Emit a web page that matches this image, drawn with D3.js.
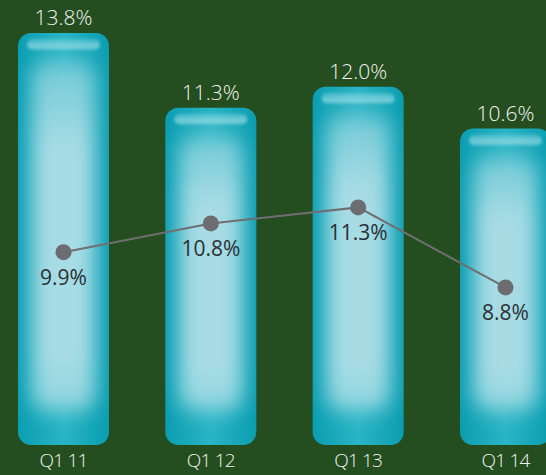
<!DOCTYPE html>
<html>
<head>
<meta charset="utf-8">
<script src="https://cdn.jsdelivr.net/npm/d3@7"></script>
<style>
  html, body { margin: 0; padding: 0; background: #244e1f; }
  svg { display: block; }
  text { font-family: "Open Sans", Lato, sans-serif; font-weight: 300; }
  text.line-label { font-weight: 400; }
</style>
</head>
<body>
<svg id="chart" width="546" height="475"></svg>
<script>
// Quarterly figures
const categories = ["Q1 11", "Q1 12", "Q1 13", "Q1 14"];
const barValues = [13.8, 11.3, 12.0, 10.6];
const lineValues = [9.9, 10.8, 11.3, 8.8];

const W = 546, H = 475;
const svg = d3.select("#chart");

svg.append("rect").attr("width", W).attr("height", H).attr("fill", "#244e1f");

const x = d3.scalePoint().domain(categories).range([63.5, 505.5]);
const barW = 91;
const y = d3.scaleLinear().domain([0, 13.8]).range([445, 33]);
const yLine = d3.scaleLinear().domain([0, 14]).range([569, 121]);

const defs = svg.append("defs");

// soft glow for the pale inner core of each bar
const blur = defs.append("filter").attr("id", "coreBlur")
  .attr("x", "-50%").attr("y", "-50%").attr("width", "200%").attr("height", "200%");
blur.append("feGaussianBlur").attr("stdDeviation", 10);

const hiBlur = defs.append("filter").attr("id", "hiBlur")
  .attr("x", "-20%").attr("y", "-50%").attr("width", "140%").attr("height", "200%");
hiBlur.append("feGaussianBlur").attr("stdDeviation", 1.8);

const edgeGrad = defs.append("linearGradient").attr("id", "edgeGrad")
  .attr("x1", "0").attr("x2", "1").attr("y1", "0").attr("y2", "0");
edgeGrad.append("stop").attr("offset", "0%").attr("stop-color", "#0a9db1");
edgeGrad.append("stop").attr("offset", "50%").attr("stop-color", "#2ab5c5");
edgeGrad.append("stop").attr("offset", "100%").attr("stop-color", "#0a9db1");

const coreGrad = defs.append("linearGradient").attr("id", "coreGrad")
  .attr("x1", "0").attr("x2", "0").attr("y1", "0").attr("y2", "1");
coreGrad.append("stop").attr("offset", "0%").attr("stop-color", "#6fc9d6");
coreGrad.append("stop").attr("offset", "25%").attr("stop-color", "#a7dce5");
coreGrad.append("stop").attr("offset", "85%").attr("stop-color", "#a7dce5");
coreGrad.append("stop").attr("offset", "100%").attr("stop-color", "#8ad4de");

const hiGrad = defs.append("linearGradient").attr("id", "hiGrad")
  .attr("x1", "0").attr("x2", "0").attr("y1", "0").attr("y2", "1");
hiGrad.append("stop").attr("offset", "0%").attr("stop-color", "#b5e8ef").attr("stop-opacity", 0.25);
hiGrad.append("stop").attr("offset", "70%").attr("stop-color", "#b5e8ef").attr("stop-opacity", 0.6);
hiGrad.append("stop").attr("offset", "100%").attr("stop-color", "#b5e8ef").attr("stop-opacity", 0.3);

const bars = svg.append("g").selectAll("g.bar")
  .data(categories.map((c, i) => ({ c, v: barValues[i], i })))
  .join("g").attr("class", "bar");

bars.each(function (d) {
  const g = d3.select(this);
  const x0 = x(d.c) - barW / 2;
  const top = y(d.v);
  const h = y(0) - top;
  const clipId = "clip" + d.i;
  defs.append("clipPath").attr("id", clipId)
    .append("rect").attr("x", x0).attr("y", top).attr("width", barW).attr("height", h)
    .attr("rx", 13).attr("ry", 13);

  g.append("rect")
    .attr("x", x0).attr("y", top).attr("width", barW).attr("height", h)
    .attr("rx", 13).attr("ry", 13)
    .attr("fill", "url(#edgeGrad)");

  const inner = g.append("g").attr("clip-path", `url(#${clipId})`);
  inner.append("rect")
    .attr("x", x0 + 14).attr("y", top + 28)
    .attr("width", barW - 28).attr("height", h - 62)
    .attr("rx", 16)
    .attr("fill", "url(#coreGrad)")
    .attr("filter", "url(#coreBlur)");

  inner.append("rect")
    .attr("x", x0 + 9).attr("y", top + 6)
    .attr("width", barW - 18).attr("height", 11)
    .attr("rx", 6)
    .attr("fill", "url(#hiGrad)")
    .attr("filter", "url(#hiBlur)");
});

// value labels above bars
svg.append("g").selectAll("text")
  .data(barValues)
  .join("text")
  .attr("x", (d, i) => x(categories[i]))
  .attr("y", d => y(d) - 8)
  .attr("text-anchor", "middle")
  .attr("fill", "#f2f2ee")
  .attr("font-size", 21)
  .text(d => d.toFixed(1) + "%");

// category labels
svg.append("g").selectAll("text")
  .data(categories)
  .join("text")
  .attr("x", d => x(d))
  .attr("y", 467)
  .attr("text-anchor", "middle")
  .attr("fill", "#f2f2ee")
  .attr("font-size", 19)
  .attr("letter-spacing", -0.8)
  .text(d => d);

// secondary series line
const line = d3.line()
  .x((d, i) => x(categories[i]))
  .y(d => yLine(d));

svg.append("path")
  .datum(lineValues)
  .attr("d", line)
  .attr("fill", "none")
  .attr("stroke", "#6f6f71")
  .attr("stroke-width", 2);

svg.append("g").selectAll("circle")
  .data(lineValues)
  .join("circle")
  .attr("cx", (d, i) => x(categories[i]))
  .attr("cy", d => yLine(d))
  .attr("r", 8)
  .attr("fill", "#6d6c70");

svg.append("g").selectAll("text")
  .data(lineValues)
  .join("text")
  .attr("class", "line-label")
  .attr("x", (d, i) => x(categories[i]))
  .attr("y", d => yLine(d) + 33)
  .attr("text-anchor", "middle")
  .attr("fill", "#2b2f33")
  .attr("font-size", 21)
  .text(d => d.toFixed(1) + "%");
</script>
</body>
</html>
